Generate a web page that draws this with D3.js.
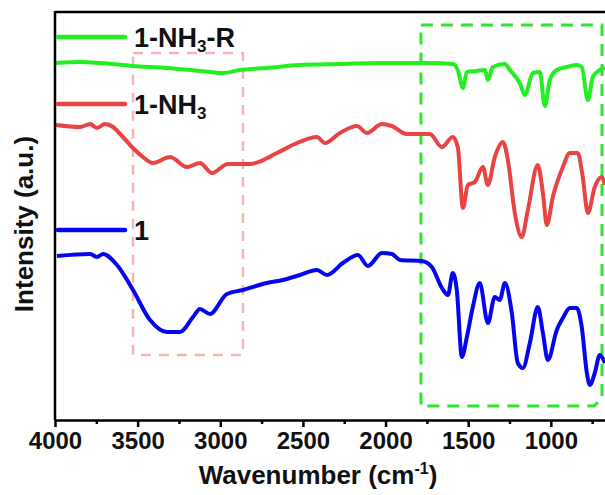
<!DOCTYPE html>
<html>
<head>
<meta charset="utf-8">
<script src="https://cdn.jsdelivr.net/npm/d3@7"></script>
<style>
body{margin:0;background:#fff}
svg{display:block;font-family:"Liberation Sans",Arial,sans-serif}
</style>
</head>
<body>
<script>
const w=605
const h=495
const padLeft=55, padTop=12, padBottom=420

// [wavenumber, intensity]
const s1=[[3988,164],[3788,166],[3746,163],[3710,166],[3625,155],[3528,130],[3425,100],[3323,88],[3244,88],[3165,103],[3123,111],[3063,106],[2960,126],[2863,130],[2718,137],[2621,140],[2518,145],[2415,150],[2355,145],[2258,157],[2167,165],[2107,154],[2022,167],[1962,166],[1913,160],[1780,159],[1720,153],[1659,132],[1623,125],[1593,147],[1569,130],[1538,63],[1508,83],[1472,113],[1430,137],[1381,97],[1339,123],[1309,120],[1278,137],[1236,107],[1200,57],[1169,52],[1127,77],[1079,113],[1048,87],[1018,60],[964,90],[927,102],[885,112],[843,112],[813,93],[782,47],[764,35],[734,47],[704,65],[673,57]]

const s2=[[3994,295],[3849,293],[3788,296],[3746,292],[3698,296],[3649,293],[3589,283],[3528,272],[3468,263],[3407,257],[3304,263],[3202,253],[3123,257],[3050,247],[2954,256],[2821,256],[2657,267],[2536,277],[2415,283],[2367,277],[2276,287],[2173,294],[2113,287],[2022,296],[1962,294],[1871,286],[1732,286],[1659,273],[1593,283],[1563,273],[1532,212],[1502,235],[1460,238],[1411,253],[1381,235],[1339,263],[1290,278],[1260,260],[1218,207],[1176,183],[1139,210],[1079,255],[1048,227],[1024,195],[988,223],[927,253],[885,267],[837,267],[807,243],[776,207],[734,233],[692,243],[673,235]]

const s3=[[4000,357],[3849,358],[3728,357],[3528,354],[3323,352],[3123,349],[2984,347],[2881,350],[2718,352],[2518,355],[2276,356],[2034,357],[1853,357],[1732,357],[1593,356],[1563,350],[1532,332],[1508,348],[1448,349],[1399,350],[1381,340],[1351,353],[1278,356],[1248,350],[1188,337],[1157,325],[1109,347],[1067,348],[1036,314],[1006,340],[964,350],[903,353],[843,355],[813,353],[776,320],[746,343],[704,350],[673,352]]

const series=[
  {name:"1",data:s1,color:"#0505f0",ly:230},
  {name:"1-NH3",data:s2,color:"#ea4343",ly:104},
  {name:"1-NH3-R",data:s3,color:"#22ee22",ly:37}
]

const majorTicks=[4000,3500,3000,2500,2000,1500,1000]
const minorTicks=[3750,3250,2750,2250,1750,1250,750]

const x=d3.scaleLinear().domain([4000,400]).range([padLeft,650])
const y=d3.scaleLinear().domain([0,408]).range([padBottom,padTop])

const svg=d3.create("svg").attr("width",w).attr("height",h)

// highlight boxes
svg.append("rect")
  .attr("x",x(3528)).attr("y",53)
  .attr("width",x(2863)-x(3528)).attr("height",355-53)
  .attr("fill","none").attr("stroke","#f6b4b4").attr("stroke-width",2.5)
  .attr("stroke-dasharray","10,8")

const gx0=x(1786), gx1=602
svg.append("path")
  .attr("d",`M${gx0},25H${gx1}V398L${gx1-8},406H${gx0}Z`)
  .attr("fill","none").attr("stroke","#2ee42e").attr("stroke-width",3)
  .attr("stroke-dasharray","12,8")

const line=d3.line()
  .x(d=>x(d[0]))
  .y(d=>y(d[1]))
  .curve(d3.curveMonotoneX)

series.forEach(s=>{
  svg.append("path")
    .datum(s.data)
    .attr("d",line)
    .attr("fill","none")
    .attr("stroke",s.color)
    .attr("stroke-width",4)
    .attr("stroke-linejoin","round")
})

//frame
svg.append("line").attr("x1",padLeft).attr("x2",w).attr("y1",padTop).attr("y2",padTop)
  .attr("stroke","#000").attr("stroke-width",2.5)
svg.append("line").attr("x1",padLeft).attr("x2",padLeft).attr("y1",padTop-1).attr("y2",padBottom)
  .attr("stroke","#000").attr("stroke-width",2.5)

//x axis
const ax=svg.append("g")
  .attr("transform",`translate(0,${padBottom})`)
  .call(d3.axisBottom(x).tickValues(majorTicks).tickSize(7).tickSizeOuter(0).tickPadding(5).tickFormat(d3.format("d")))
ax.select(".domain").attr("stroke-width",2.5)
ax.selectAll(".tick line").attr("stroke-width",2.5)
ax.selectAll(".tick text").attr("font-size",24).attr("font-weight","bold")
  .attr("font-family","'Liberation Sans',Arial,sans-serif").attr("fill","#111")

svg.append("g")
  .attr("transform",`translate(0,${padBottom})`)
  .call(d3.axisBottom(x).tickValues(minorTicks).tickSize(4).tickFormat(""))
  .call(g=>g.select(".domain").remove())
  .selectAll(".tick line").attr("stroke-width",2.5)

//legend
series.forEach(s=>{
  svg.append("line").attr("x1",58).attr("x2",125).attr("y1",s.ly).attr("y2",s.ly)
    .attr("stroke",s.color).attr("stroke-width",4.5).attr("stroke-linecap","round")
  const t=svg.append("text").attr("x",134).attr("y",s.ly+10)
    .attr("font-size",27).attr("font-weight","bold").attr("fill","#111")
  if(s.name=="1"){
    t.text("1")
  } else {
    t.append("tspan").text("1-NH")
    t.append("tspan").text("3").attr("font-size",17).attr("dy",5)
    if(s.name=="1-NH3-R") t.append("tspan").text("-R").attr("dy",-5)
  }
})

//axis titles
const xt=svg.append("text").attr("x",318).attr("y",484).attr("text-anchor","middle")
  .attr("font-size",26).attr("font-weight","bold").attr("fill","#111")
xt.append("tspan").text("Wavenumber (cm")
xt.append("tspan").text("-1").attr("font-size",16).attr("dy",-10)
xt.append("tspan").text(")").attr("dy",10)

svg.append("text")
  .attr("transform","translate(33,224) rotate(-90)")
  .attr("text-anchor","middle")
  .attr("font-size",26).attr("font-weight","bold").attr("fill","#111")
  .text("Intensity (a.u.)")

d3.select("body").append(()=>svg.node())
</script>
</body>
</html>
